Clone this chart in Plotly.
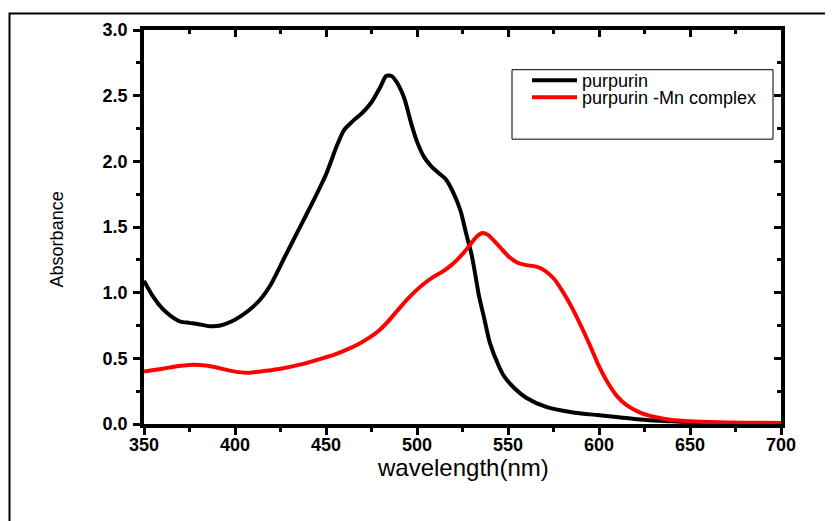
import plotly.graph_objects as go

# ---- data ----
wl_purpurin = [350, 355, 360, 365, 370, 375, 380, 386, 392, 398, 403, 408, 414, 420,
               428, 435, 442, 450, 456, 460, 465, 470, 475, 480, 483, 486, 489, 493,
               497, 500, 504, 508, 512, 516, 520, 524, 527, 530, 532, 534, 537, 540,
               545, 548, 553, 560, 571, 585, 599, 612, 626, 640, 650, 660, 680, 700]
abs_purpurin = [1.09, 0.97, 0.88, 0.82, 0.78, 0.77, 0.76, 0.745, 0.75, 0.78, 0.82, 0.87,
                0.95, 1.07, 1.29, 1.48, 1.67, 1.90, 2.12, 2.24, 2.31, 2.37, 2.45, 2.57,
                2.65, 2.65, 2.60, 2.48, 2.28, 2.15, 2.03, 1.96, 1.91, 1.86, 1.76, 1.62,
                1.45, 1.29, 1.14, 0.98, 0.80, 0.62, 0.44, 0.36, 0.28, 0.20, 0.13, 0.09,
                0.068, 0.05, 0.03, 0.02, 0.014, 0.01, 0.006, 0.004]

wl_complex = [350, 360, 368, 375, 384, 390, 396, 402, 408, 414, 420, 425, 435, 448,
              455, 462, 468, 474, 479, 484, 489, 494, 499, 504, 509, 514, 518, 522,
              526, 530, 533, 536, 539, 542, 546, 550, 555, 560, 565, 570, 575, 580,
              585, 590, 595, 600, 605, 610, 615, 622, 630, 640, 650, 660, 680, 700]
abs_complex = [0.40, 0.42, 0.44, 0.45, 0.445, 0.43, 0.41, 0.395, 0.39, 0.40, 0.41, 0.42,
               0.45, 0.50, 0.53, 0.57, 0.61, 0.66, 0.71, 0.78, 0.86, 0.94, 1.01, 1.07,
               1.12, 1.16, 1.20, 1.25, 1.31, 1.38, 1.43, 1.455, 1.44, 1.40, 1.34, 1.28,
               1.23, 1.21, 1.20, 1.17, 1.11, 1.01, 0.89, 0.75, 0.60, 0.44, 0.31, 0.21,
               0.145, 0.09, 0.055, 0.03, 0.02, 0.015, 0.01, 0.008]

series_names = ["purpurin", "purpurin -Mn complex"]
series_colors = ["#000000", "#ff0000"]

x_ticks = [350, 400, 450, 500, 550, 600, 650, 700]
y_ticks = [0.0, 0.5, 1.0, 1.5, 2.0, 2.5, 3.0]

FONT = "Arial, Liberation Sans, sans-serif"

fig = go.Figure()
fig.add_trace(go.Scatter(x=wl_purpurin, y=abs_purpurin, mode="lines",
                         name=series_names[0], legend="legend", showlegend=True,
                         line=dict(color=series_colors[0], width=4, shape="spline", smoothing=0.7)))
fig.add_trace(go.Scatter(x=wl_complex, y=abs_complex, mode="lines",
                         name=series_names[1], legend="legend2", showlegend=True,
                         line=dict(color=series_colors[1], width=4, shape="spline", smoothing=0.7)))
# empty trace so the mirrored top/right axes are drawn
fig.add_trace(go.Scatter(x=[], y=[], xaxis="x2", yaxis="y2", showlegend=False, hoverinfo="skip"))

# page body has an 8px margin; compensate so the plot lands where the reference has it
OFF = 8
W, H = 833, 521
PX0, PX1, PY0, PY1 = 144, 781, 27, 424   # target plot-area pixels on the page
L = PX0 - OFF
T = PY0 - OFF
pw, ph = PX1 - PX0, PY1 - PY0
R = W - L - pw
B = H - T - ph

def px_x(p):
    return (p - PX0) / pw

def px_y(p):
    return (PY1 - p) / ph

axis_common = dict(showline=True, linecolor="black", linewidth=3.5, showgrid=False,
                   zeroline=False, ticklen=7, tickwidth=2.5, tickcolor="black")

fig.update_layout(
    width=W, height=H,
    margin=dict(l=L, r=R, t=T, b=B),
    paper_bgcolor="white", plot_bgcolor="white",
    font=dict(family=FONT, color="black"),
    showlegend=True,
    xaxis=dict(range=[350, 700], tickvals=x_ticks, ticktext=[str(v) for v in x_ticks],
               ticks="outside", tickfont=dict(size=18, weight="bold", family=FONT),
               ticklabelstandoff=-5,
               minor=dict(ticks="outside", dtick=25, tick0=350, ticklen=4, tickwidth=2.5,
                          tickcolor="black"),
               **axis_common),
    yaxis=dict(range=[0, 3], tickvals=y_ticks, ticktext=[f"{v:.1f}" for v in y_ticks],
               ticks="outside", tickfont=dict(size=18, weight="bold", family=FONT),
               ticklabelstandoff=2,
               minor=dict(ticks="outside", dtick=0.25, tick0=0, ticklen=4, tickwidth=2.5,
                          tickcolor="black"),
               **axis_common),
    xaxis2=dict(range=[350, 700], overlaying="x", side="top", anchor="y2",
                tickvals=x_ticks, ticks="inside", showticklabels=False,
                minor=dict(ticks="inside", dtick=25, tick0=350, ticklen=4, tickwidth=2.5,
                           tickcolor="black"),
                **axis_common),
    yaxis2=dict(range=[0, 3], overlaying="y", side="right", anchor="x2",
                tickvals=y_ticks, ticks="inside", showticklabels=False,
                minor=dict(ticks="inside", dtick=0.25, tick0=0, ticklen=4, tickwidth=2.5,
                           tickcolor="black"),
                **axis_common),
    legend=dict(x=px_x(527), y=px_y(78), xanchor="left", yanchor="middle",
                bgcolor="rgba(0,0,0,0)", borderwidth=0, itemwidth=45, visible=True,
                font=dict(size=18, family=FONT, color="black")),
    legend2=dict(x=px_x(527), y=px_y(95), xanchor="left", yanchor="middle",
                 bgcolor="rgba(0,0,0,0)", borderwidth=0, itemwidth=45, visible=True,
                 font=dict(size=18, family=FONT, color="black")),
    shapes=[
        # legend frame
        dict(type="rect", xref="paper", yref="paper",
             x0=px_x(512), x1=px_x(773), y0=px_y(137), y1=px_y(67),
             line=dict(color="black", width=1), fillcolor="rgba(0,0,0,0)"),
        # outer figure frame
        dict(type="rect", xref="paper", yref="paper",
             x0=px_x(9.5), x1=px_x(900), y0=px_y(600), y1=px_y(10.5),
             line=dict(color="black", width=2), fillcolor="rgba(0,0,0,0)", layer="below"),
    ],
    annotations=[
        dict(text="wavelength(nm)", xref="paper", yref="paper", x=0.5, y=px_y(468),
             xanchor="center", yanchor="middle", showarrow=False,
             font=dict(size=24, family=FONT, color="black")),
        dict(text="Absorbance", xref="paper", yref="paper", x=px_x(57), y=px_y(238),
             xanchor="center", yanchor="middle", showarrow=False, textangle=-90,
             font=dict(size=18, family=FONT, color="black")),
    ],
)

fig.write_html("out.html")
